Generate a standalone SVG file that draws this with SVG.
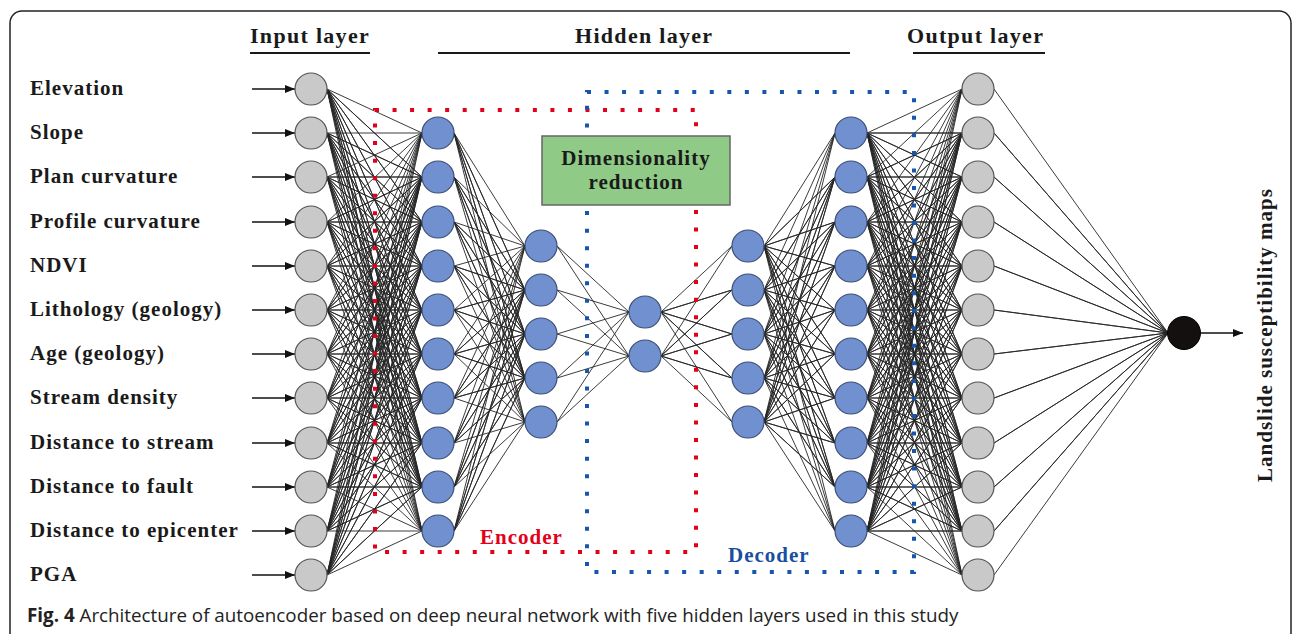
<svg xmlns="http://www.w3.org/2000/svg" width="1292" height="634" viewBox="0 0 1292 634">
<defs>
<style>
.frame{fill:none;stroke:#222;stroke-width:1.5}
.lbl{font-family:"Liberation Serif","Times New Roman",serif;font-weight:bold;font-size:21px;letter-spacing:1px;fill:#1a1a1a}
.hdr{font-family:"Liberation Serif","Times New Roman",serif;font-weight:bold;font-size:22px;letter-spacing:1.3px;fill:#1a1a1a}
.ul{stroke:#1a1a1a;stroke-width:2}
.cap{font-family:"Open Sans","Liberation Sans",sans-serif;font-size:18.8px;fill:#222}
.conn path{fill:none;stroke:#262626;stroke-width:0.9;stroke-linejoin:round}
.arr{stroke:#111;stroke-width:1.6;fill:none}
.gray{fill:#c9c9c9;stroke:#555;stroke-width:1.2}
.blue{fill:#7090cf;stroke:#3d4e76;stroke-width:1.2}
.blk{fill:#141010;stroke:#000;stroke-width:1}
.enc{fill:none;stroke:#e3001b;stroke-width:4;stroke-dasharray:4 13.54}
.dec{fill:none;stroke:#1756ac;stroke-width:4;stroke-dasharray:4 13.54}
.box{fill:#8fca86;stroke:#666;stroke-width:1.5}
</style>
<marker id="ah" markerUnits="userSpaceOnUse" markerWidth="10" markerHeight="8" refX="10" refY="4" orient="auto">
<path d="M0 0L10 4L0 8z" fill="#111"/>
</marker>
</defs>
<rect x="0" y="0" width="1292" height="634" fill="#fff"/>
<path class="frame" d="M10 640V23A12 12 0 0 1 22 11H1279A12 12 0 0 1 1291 23V640"/>

<g id="headers">
<text class="hdr" x="250" y="43">Input layer</text>
<line class="ul" x1="250" y1="53" x2="370" y2="53"/>
<text class="hdr" x="575" y="43">Hidden layer</text>
<line class="ul" x1="438" y1="53" x2="850" y2="53"/>
<text class="hdr" x="907" y="43">Output layer</text>
<line class="ul" x1="913" y1="53" x2="1045" y2="53"/>
</g>

<g id="connectors" class="conn">
<path d="M422 133L327 89 422 177 327 89 422 222 327 89 422 266 327 89 422 310 327 89 422 354 327 89 422 398 327 89 422 443 327 89 422 487 327 89 422 531"/>
<path d="M422 133L327 133 422 177 327 133 422 222 327 133 422 266 327 133 422 310 327 133 422 354 327 133 422 398 327 133 422 443 327 133 422 487 327 133 422 531"/>
<path d="M422 133L327 177 422 177 327 177 422 222 327 177 422 266 327 177 422 310 327 177 422 354 327 177 422 398 327 177 422 443 327 177 422 487 327 177 422 531"/>
<path d="M422 133L327 222 422 177 327 222 422 222 327 222 422 266 327 222 422 310 327 222 422 354 327 222 422 398 327 222 422 443 327 222 422 487 327 222 422 531"/>
<path d="M422 133L327 266 422 177 327 266 422 222 327 266 422 266 327 266 422 310 327 266 422 354 327 266 422 398 327 266 422 443 327 266 422 487 327 266 422 531"/>
<path d="M422 133L327 310 422 177 327 310 422 222 327 310 422 266 327 310 422 310 327 310 422 354 327 310 422 398 327 310 422 443 327 310 422 487 327 310 422 531"/>
<path d="M422 133L327 354 422 177 327 354 422 222 327 354 422 266 327 354 422 310 327 354 422 354 327 354 422 398 327 354 422 443 327 354 422 487 327 354 422 531"/>
<path d="M422 133L327 398 422 177 327 398 422 222 327 398 422 266 327 398 422 310 327 398 422 354 327 398 422 398 327 398 422 443 327 398 422 487 327 398 422 531"/>
<path d="M422 133L327 443 422 177 327 443 422 222 327 443 422 266 327 443 422 310 327 443 422 354 327 443 422 398 327 443 422 443 327 443 422 487 327 443 422 531"/>
<path d="M422 133L327 487 422 177 327 487 422 222 327 487 422 266 327 487 422 310 327 487 422 354 327 487 422 398 327 487 422 443 327 487 422 487 327 487 422 531"/>
<path d="M422 133L327 531 422 177 327 531 422 222 327 531 422 266 327 531 422 310 327 531 422 354 327 531 422 398 327 531 422 443 327 531 422 487 327 531 422 531"/>
<path d="M422 133L327 575 422 177 327 575 422 222 327 575 422 266 327 575 422 310 327 575 422 354 327 575 422 398 327 575 422 443 327 575 422 487 327 575 422 531"/>

<path d="M525 246L454 133 525 290 454 133 525 334 454 133 525 378 454 133 525 422"/>
<path d="M525 246L454 177 525 290 454 177 525 334 454 177 525 378 454 177 525 422"/>
<path d="M525 246L454 222 525 290 454 222 525 334 454 222 525 378 454 222 525 422"/>
<path d="M525 246L454 266 525 290 454 266 525 334 454 266 525 378 454 266 525 422"/>
<path d="M525 246L454 310 525 290 454 310 525 334 454 310 525 378 454 310 525 422"/>
<path d="M525 246L454 354 525 290 454 354 525 334 454 354 525 378 454 354 525 422"/>
<path d="M525 246L454 398 525 290 454 398 525 334 454 398 525 378 454 398 525 422"/>
<path d="M525 246L454 443 525 290 454 443 525 334 454 443 525 378 454 443 525 422"/>
<path d="M525 246L454 487 525 290 454 487 525 334 454 487 525 378 454 487 525 422"/>
<path d="M525 246L454 531 525 290 454 531 525 334 454 531 525 378 454 531 525 422"/>

<path d="M629 312L557 246 629 356"/>
<path d="M629 312L557 290 629 356"/>
<path d="M629 312L557 334 629 356"/>
<path d="M629 312L557 378 629 356"/>
<path d="M629 312L557 422 629 356"/>

<path d="M732 246L661 312 732 290 661 312 732 334 661 312 732 378 661 312 732 422"/>
<path d="M732 246L661 356 732 290 661 356 732 334 661 356 732 378 661 356 732 422"/>

<path d="M835 133L764 246 835 177 764 246 835 222 764 246 835 266 764 246 835 310 764 246 835 354 764 246 835 398 764 246 835 443 764 246 835 487 764 246 835 531"/>
<path d="M835 133L764 290 835 177 764 290 835 222 764 290 835 266 764 290 835 310 764 290 835 354 764 290 835 398 764 290 835 443 764 290 835 487 764 290 835 531"/>
<path d="M835 133L764 334 835 177 764 334 835 222 764 334 835 266 764 334 835 310 764 334 835 354 764 334 835 398 764 334 835 443 764 334 835 487 764 334 835 531"/>
<path d="M835 133L764 378 835 177 764 378 835 222 764 378 835 266 764 378 835 310 764 378 835 354 764 378 835 398 764 378 835 443 764 378 835 487 764 378 835 531"/>
<path d="M835 133L764 422 835 177 764 422 835 222 764 422 835 266 764 422 835 310 764 422 835 354 764 422 835 398 764 422 835 443 764 422 835 487 764 422 835 531"/>

<path d="M962 89L867 133 962 133 867 133 962 177 867 133 962 222 867 133 962 266 867 133 962 310 867 133 962 354 867 133 962 398 867 133 962 443 867 133 962 487 867 133 962 531 867 133 962 575"/>
<path d="M962 89L867 177 962 133 867 177 962 177 867 177 962 222 867 177 962 266 867 177 962 310 867 177 962 354 867 177 962 398 867 177 962 443 867 177 962 487 867 177 962 531 867 177 962 575"/>
<path d="M962 89L867 222 962 133 867 222 962 177 867 222 962 222 867 222 962 266 867 222 962 310 867 222 962 354 867 222 962 398 867 222 962 443 867 222 962 487 867 222 962 531 867 222 962 575"/>
<path d="M962 89L867 266 962 133 867 266 962 177 867 266 962 222 867 266 962 266 867 266 962 310 867 266 962 354 867 266 962 398 867 266 962 443 867 266 962 487 867 266 962 531 867 266 962 575"/>
<path d="M962 89L867 310 962 133 867 310 962 177 867 310 962 222 867 310 962 266 867 310 962 310 867 310 962 354 867 310 962 398 867 310 962 443 867 310 962 487 867 310 962 531 867 310 962 575"/>
<path d="M962 89L867 354 962 133 867 354 962 177 867 354 962 222 867 354 962 266 867 354 962 310 867 354 962 354 867 354 962 398 867 354 962 443 867 354 962 487 867 354 962 531 867 354 962 575"/>
<path d="M962 89L867 398 962 133 867 398 962 177 867 398 962 222 867 398 962 266 867 398 962 310 867 398 962 354 867 398 962 398 867 398 962 443 867 398 962 487 867 398 962 531 867 398 962 575"/>
<path d="M962 89L867 443 962 133 867 443 962 177 867 443 962 222 867 443 962 266 867 443 962 310 867 443 962 354 867 443 962 398 867 443 962 443 867 443 962 487 867 443 962 531 867 443 962 575"/>
<path d="M962 89L867 487 962 133 867 487 962 177 867 487 962 222 867 487 962 266 867 487 962 310 867 487 962 354 867 487 962 398 867 487 962 443 867 487 962 487 867 487 962 531 867 487 962 575"/>
<path d="M962 89L867 531 962 133 867 531 962 177 867 531 962 222 867 531 962 266 867 531 962 310 867 531 962 354 867 531 962 398 867 531 962 443 867 531 962 487 867 531 962 531 867 531 962 575"/>

<path d="M994 89L1168 333 994 133 1168 333 994 177 1168 333 994 222 1168 333 994 266 1168 333 994 310 1168 333 994 354 1168 333 994 398 1168 333 994 443 1168 333 994 487 1168 333 994 531 1168 333 994 575"/>

<g id="input-arrows">
<line class="arr" x1="252" y1="89" x2="295" y2="89" marker-end="url(#ah)"/>
<line class="arr" x1="252" y1="133" x2="295" y2="133" marker-end="url(#ah)"/>
<line class="arr" x1="252" y1="177" x2="295" y2="177" marker-end="url(#ah)"/>
<line class="arr" x1="252" y1="222" x2="295" y2="222" marker-end="url(#ah)"/>
<line class="arr" x1="252" y1="266" x2="295" y2="266" marker-end="url(#ah)"/>
<line class="arr" x1="252" y1="310" x2="295" y2="310" marker-end="url(#ah)"/>
<line class="arr" x1="252" y1="354" x2="295" y2="354" marker-end="url(#ah)"/>
<line class="arr" x1="252" y1="398" x2="295" y2="398" marker-end="url(#ah)"/>
<line class="arr" x1="252" y1="443" x2="295" y2="443" marker-end="url(#ah)"/>
<line class="arr" x1="252" y1="487" x2="295" y2="487" marker-end="url(#ah)"/>
<line class="arr" x1="252" y1="531" x2="295" y2="531" marker-end="url(#ah)"/>
<line class="arr" x1="252" y1="575" x2="295" y2="575" marker-end="url(#ah)"/>
</g>
<line class="arr" x1="1201" y1="333" x2="1243" y2="333" marker-end="url(#ah)"/>
</g>

<g id="encoder-region">
<rect class="enc" x="375" y="110" width="321" height="442"/>
<text x="480" y="544" style="font-family:'Liberation Serif','Times New Roman',serif;font-weight:bold;font-size:21px;letter-spacing:1px;fill:#e3001b">Encoder</text>
</g>
<g id="decoder-region">
<rect class="dec" x="587" y="92" width="327" height="480"/>
<text x="728" y="562" style="font-family:'Liberation Serif','Times New Roman',serif;font-weight:bold;font-size:21px;letter-spacing:1px;fill:#1a4f9e">Decoder</text>
</g>

<g id="dimensionality-reduction">
<rect class="box" x="542" y="136" width="188" height="69"/>
<text class="lbl" x="636" y="165" text-anchor="middle">Dimensionality</text>
<text class="lbl" x="636" y="189" text-anchor="middle">reduction</text>
</g>

<g id="input-layer">
<g id="in1"><circle class="gray" cx="311" cy="89" r="16"/><text class="lbl" x="30" y="95">Elevation</text></g>
<g id="in2"><circle class="gray" cx="311" cy="133" r="16"/><text class="lbl" x="30" y="139">Slope</text></g>
<g id="in3"><circle class="gray" cx="311" cy="177" r="16"/><text class="lbl" x="30" y="183">Plan curvature</text></g>
<g id="in4"><circle class="gray" cx="311" cy="222" r="16"/><text class="lbl" x="30" y="228">Profile curvature</text></g>
<g id="in5"><circle class="gray" cx="311" cy="266" r="16"/><text class="lbl" x="30" y="272">NDVI</text></g>
<g id="in6"><circle class="gray" cx="311" cy="310" r="16"/><text class="lbl" x="30" y="316">Lithology (geology)</text></g>
<g id="in7"><circle class="gray" cx="311" cy="354" r="16"/><text class="lbl" x="30" y="360">Age (geology)</text></g>
<g id="in8"><circle class="gray" cx="311" cy="398" r="16"/><text class="lbl" x="30" y="404">Stream density</text></g>
<g id="in9"><circle class="gray" cx="311" cy="443" r="16"/><text class="lbl" x="30" y="449">Distance to stream</text></g>
<g id="in10"><circle class="gray" cx="311" cy="487" r="16"/><text class="lbl" x="30" y="493">Distance to fault</text></g>
<g id="in11"><circle class="gray" cx="311" cy="531" r="16"/><text class="lbl" x="30" y="537">Distance to epicenter</text></g>
<g id="in12"><circle class="gray" cx="311" cy="575" r="16"/><text class="lbl" x="30" y="581">PGA</text></g>
</g>

<g id="encoder-layer-1">
<g id="e1n1"><circle class="blue" cx="438" cy="133" r="16"/></g>
<g id="e1n2"><circle class="blue" cx="438" cy="177" r="16"/></g>
<g id="e1n3"><circle class="blue" cx="438" cy="222" r="16"/></g>
<g id="e1n4"><circle class="blue" cx="438" cy="266" r="16"/></g>
<g id="e1n5"><circle class="blue" cx="438" cy="310" r="16"/></g>
<g id="e1n6"><circle class="blue" cx="438" cy="354" r="16"/></g>
<g id="e1n7"><circle class="blue" cx="438" cy="398" r="16"/></g>
<g id="e1n8"><circle class="blue" cx="438" cy="443" r="16"/></g>
<g id="e1n9"><circle class="blue" cx="438" cy="487" r="16"/></g>
<g id="e1n10"><circle class="blue" cx="438" cy="531" r="16"/></g>
</g>
<g id="encoder-layer-2">
<g id="e2n1"><circle class="blue" cx="541" cy="246" r="16"/></g>
<g id="e2n2"><circle class="blue" cx="541" cy="290" r="16"/></g>
<g id="e2n3"><circle class="blue" cx="541" cy="334" r="16"/></g>
<g id="e2n4"><circle class="blue" cx="541" cy="378" r="16"/></g>
<g id="e2n5"><circle class="blue" cx="541" cy="422" r="16"/></g>
</g>
<g id="bottleneck">
<g id="bn1"><circle class="blue" cx="645" cy="312" r="16"/></g>
<g id="bn2"><circle class="blue" cx="645" cy="356" r="16"/></g>
</g>
<g id="decoder-layer-1">
<g id="d1n1"><circle class="blue" cx="748" cy="246" r="16"/></g>
<g id="d1n2"><circle class="blue" cx="748" cy="290" r="16"/></g>
<g id="d1n3"><circle class="blue" cx="748" cy="334" r="16"/></g>
<g id="d1n4"><circle class="blue" cx="748" cy="378" r="16"/></g>
<g id="d1n5"><circle class="blue" cx="748" cy="422" r="16"/></g>
</g>
<g id="decoder-layer-2">
<g id="d2n1"><circle class="blue" cx="851" cy="133" r="16"/></g>
<g id="d2n2"><circle class="blue" cx="851" cy="177" r="16"/></g>
<g id="d2n3"><circle class="blue" cx="851" cy="222" r="16"/></g>
<g id="d2n4"><circle class="blue" cx="851" cy="266" r="16"/></g>
<g id="d2n5"><circle class="blue" cx="851" cy="310" r="16"/></g>
<g id="d2n6"><circle class="blue" cx="851" cy="354" r="16"/></g>
<g id="d2n7"><circle class="blue" cx="851" cy="398" r="16"/></g>
<g id="d2n8"><circle class="blue" cx="851" cy="443" r="16"/></g>
<g id="d2n9"><circle class="blue" cx="851" cy="487" r="16"/></g>
<g id="d2n10"><circle class="blue" cx="851" cy="531" r="16"/></g>
</g>
<g id="output-layer">
<g id="out1"><circle class="gray" cx="978" cy="89" r="16"/></g>
<g id="out2"><circle class="gray" cx="978" cy="133" r="16"/></g>
<g id="out3"><circle class="gray" cx="978" cy="177" r="16"/></g>
<g id="out4"><circle class="gray" cx="978" cy="222" r="16"/></g>
<g id="out5"><circle class="gray" cx="978" cy="266" r="16"/></g>
<g id="out6"><circle class="gray" cx="978" cy="310" r="16"/></g>
<g id="out7"><circle class="gray" cx="978" cy="354" r="16"/></g>
<g id="out8"><circle class="gray" cx="978" cy="398" r="16"/></g>
<g id="out9"><circle class="gray" cx="978" cy="443" r="16"/></g>
<g id="out10"><circle class="gray" cx="978" cy="487" r="16"/></g>
<g id="out11"><circle class="gray" cx="978" cy="531" r="16"/></g>
<g id="out12"><circle class="gray" cx="978" cy="575" r="16"/></g>
</g>
<g id="final-output">
<circle class="blk" cx="1184" cy="333" r="16.5"/>
</g>
<g id="result-label">
<text class="lbl" transform="translate(1272 335) rotate(-90)" text-anchor="middle">Landslide susceptibility maps</text>
</g>

<g id="caption">
<text class="cap" x="27" y="622"><tspan font-weight="bold">Fig. 4</tspan> Architecture of autoencoder based on deep neural network with five hidden layers used in this study</text>
</g>
</svg>
